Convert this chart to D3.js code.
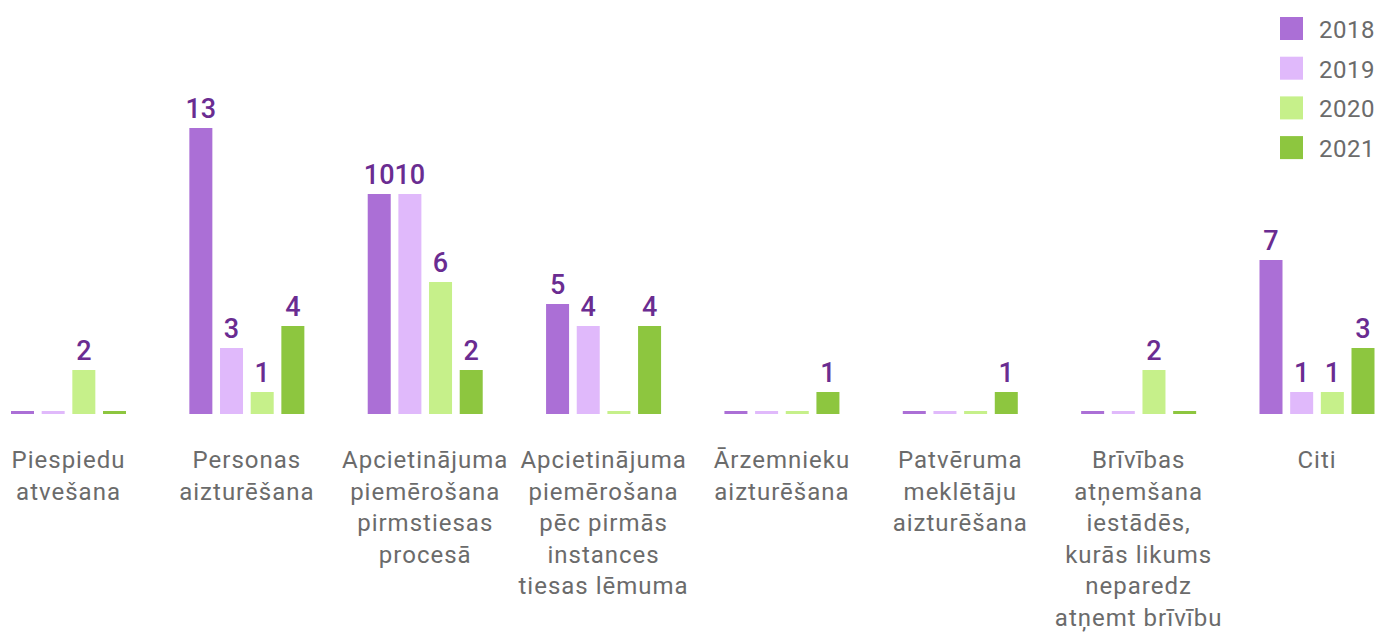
<!DOCTYPE html>
<html>
  <head>
    <meta charset="UTF-8" />
    <script src="https://cdn.jsdelivr.net/npm/d3@7"></script>
    <style>
      body { margin: 0; background: #fff; }
    </style>
  </head>
  <body>
    <svg></svg>
    <script>
      // data
      const categories = [
        ['Piespiedu', 'atvešana'],
        ['Personas', 'aizturēšana'],
        ['Apcietinājuma', 'piemērošana', 'pirmstiesas', 'procesā'],
        ['Apcietinājuma', 'piemērošana', 'pēc pirmās', 'instances', 'tiesas lēmuma'],
        ['Ārzemnieku', 'aizturēšana'],
        ['Patvēruma', 'meklētāju', 'aizturēšana'],
        ['Brīvības', 'atņemšana', 'iestādēs,', 'kurās likums', 'neparedz', 'atņemt brīvību'],
        ['Citi']
      ];
      const years = ['2018', '2019', '2020', '2021'];
      const v2018 = [0, 13, 10, 5, 0, 0, 0, 7];
      const v2019 = [0, 3, 10, 4, 0, 0, 0, 1];
      const v2020 = [2, 1, 6, 0, 0, 0, 2, 1];
      const v2021 = [0, 4, 2, 4, 1, 1, 0, 3];
      const series = [v2018, v2019, v2020, v2021];

      const colors = ['#ab6fd6', '#e0b9fb', '#c6f08a', '#8dc63f'];
      const labelColor = '#6a2c91';
      const textColor = '#6b6b6b';

      const width = 1376;
      const height = 632;
      const baseline = 414;

      const svg = d3
        .select('svg')
        .attr('width', width)
        .attr('height', height)
        .style('font-family', 'Roboto, sans-serif');

      // scales
      const x0 = d3
        .scalePoint()
        .domain(d3.range(categories.length))
        .range([68.5, 1317]);
      const x1 = d3
        .scaleBand()
        .domain(d3.range(years.length))
        .range([-57.5, 57.5])
        .paddingInner(0.25);
      const y = d3.scaleLinear().domain([0, 13]).range([baseline, 128]);

      const rows = [];
      series.forEach((vals, s) =>
        vals.forEach((v, c) => rows.push({ c, s, v }))
      );

      // bars (zero values as a thin stub)
      svg
        .append('g')
        .selectAll('rect')
        .data(rows)
        .join('rect')
        .attr('x', (d) => x0(d.c) + x1(d.s))
        .attr('width', x1.bandwidth())
        .attr('y', (d) => (d.v === 0 ? baseline - 3 : y(d.v)))
        .attr('height', (d) => (d.v === 0 ? 3 : baseline - y(d.v)))
        .attr('fill', (d) => colors[d.s]);

      // value labels
      svg
        .append('g')
        .selectAll('text')
        .data(rows.filter((d) => d.v > 0))
        .join('text')
        .attr('x', (d) => x0(d.c) + x1(d.s) + x1.bandwidth() / 2)
        .attr('y', (d) => y(d.v) - 10)
        .attr('text-anchor', 'middle')
        .attr('font-size', 27)
        .attr('font-weight', 500)
        .attr('fill', labelColor)
        .text((d) => d.v);

      // category labels
      svg
        .append('g')
        .selectAll('text')
        .data(categories)
        .join('text')
        .attr('text-anchor', 'middle')
        .attr('font-size', 24)
        .attr('letter-spacing', 1)
        .attr('fill', textColor)
        .attr('transform', (d, i) => `translate(${x0(i)},468)`)
        .selectAll('tspan')
        .data((d) => d)
        .join('tspan')
        .attr('x', 0)
        .attr('y', (d, i) => i * 31.6)
        .text((d) => d);

      // legend
      const legend = svg
        .append('g')
        .selectAll('g')
        .data(years)
        .join('g')
        .attr('transform', (d, i) => `translate(1280,${17 + i * 39.7})`);
      legend
        .append('rect')
        .attr('width', 23)
        .attr('height', 23)
        .attr('fill', (d, i) => colors[i]);
      legend
        .append('text')
        .attr('x', 39)
        .attr('y', 21)
        .attr('font-size', 24)
        .attr('letter-spacing', 0.5)
        .attr('fill', textColor)
        .text((d) => d);
    </script>
  </body>
</html>
